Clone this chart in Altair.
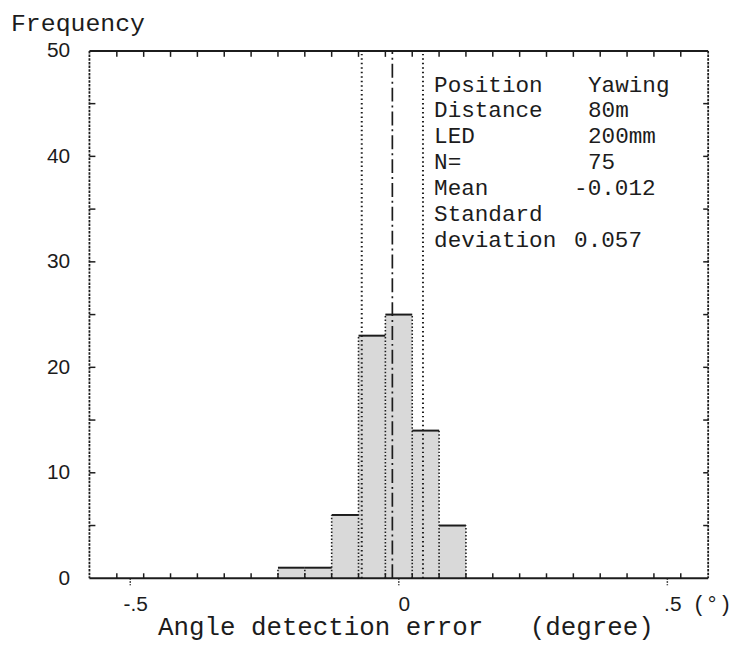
import altair as alt
import pandas as pd

# ---------------- data ----------------
bin_edges = [-0.225, -0.175, -0.125, -0.075, -0.025, 0.025, 0.075, 0.125]
counts = [1, 1, 6, 23, 25, 14, 5]
mean_err = -0.012
sd_err = 0.057
x_major = [-0.5, 0.0, 0.5]
x_major_text = ["-.5", "0", ".5"]
x_minor = [-0.525, -0.475, -0.425, -0.375, -0.325, -0.275, -0.225, -0.175,
           -0.125, -0.075, -0.025, 0.025, 0.075, 0.125, 0.175, 0.225,
           0.275, 0.325, 0.375, 0.425, 0.475, 0.525]
y_major = [0, 10, 20, 30, 40, 50]
y_minor = [5, 10, 15, 20, 25, 30, 35, 40, 45]
info_keys = ["Position", "Distance", "LED", "N=", "Mean", "Standard", "deviation"]
info_vals = ["Yawing", "80m", "200mm", "75", "-0.012", "", "0.057"]
x_title_text = "Angle detection error   (degree)"
y_title_text = "Frequency"
unit_text = "(°)"

# ---------------- layout / style ----------------
W, H = 623, 531
XDOM = [-0.576, 0.576]
YDOM = [0, 50]
INK = "#1c1c1c"
MONO = "Liberation Mono"
SANS = "Liberation Sans"
NBSP = "\u00a0"

xs = alt.Scale(domain=XDOM, nice=False, zero=False)
ys = alt.Scale(domain=YDOM, nice=False, zero=False)

bars_df = pd.DataFrame({"lo": bin_edges[:-1], "hi": bin_edges[1:], "count": counts, "base": 0})
edge_h = [max(counts[i - 1] if i > 0 else 0, counts[i] if i < len(counts) else 0)
          for i in range(len(bin_edges))]
edges_df = pd.DataFrame({"x": bin_edges, "h": edge_h, "base": 0})
stats_df = pd.DataFrame({"x": [mean_err - sd_err, mean_err + sd_err], "lo": 0, "hi": 50})
mean_df = pd.DataFrame({"x": [mean_err], "lo": 0, "hi": 50})
one = pd.DataFrame({"a": [0]})

label_expr = " : ".join(
    f"datum.value == {v} ? '{t}'" for v, t in zip(x_major, x_major_text)
) + " : ''"

x_axis = alt.Axis(values=x_major, labelExpr=label_expr, domain=False, ticks=False,
                  tickSize=0, grid=False, title=None, labelFont=SANS, labelFontSize=21,
                  labelColor=INK, labelPadding=15, labelOffset=5, labelBaseline="top")
y_axis = alt.Axis(values=y_major, domain=False, ticks=False, tickSize=0, grid=False,
                  title=None, labelFont=SANS, labelFontSize=21, labelColor=INK,
                  labelPadding=20)

bars = alt.Chart(bars_df).mark_rect(fill="#d9d9d9", strokeWidth=0).encode(
    x=alt.X("lo:Q", scale=xs, axis=x_axis),
    x2="hi:Q",
    y=alt.Y("count:Q", scale=ys, axis=y_axis),
    y2="base:Q",
)
tops = alt.Chart(bars_df).mark_rule(color=INK, strokeWidth=2).encode(
    x=alt.X("lo:Q", scale=xs), x2="hi:Q", y=alt.Y("count:Q", scale=ys)
)
sides = alt.Chart(edges_df).mark_rule(color=INK, strokeWidth=1.6, strokeDash=[1.5, 2]).encode(
    x=alt.X("x:Q", scale=xs), y=alt.Y("base:Q", scale=ys), y2="h:Q"
)
sd_lines = alt.Chart(stats_df).mark_rule(color=INK, strokeWidth=2, strokeDash=[1.5, 3]).encode(
    x=alt.X("x:Q", scale=xs), y=alt.Y("lo:Q", scale=ys), y2="hi:Q"
)
mean_line = alt.Chart(mean_df).mark_rule(color=INK, strokeWidth=1.7, strokeDash=[14, 4, 2, 4]).encode(
    x=alt.X("x:Q", scale=xs), y=alt.Y("lo:Q", scale=ys), y2="hi:Q"
)

frame_top = alt.Chart(one).mark_rule(color=INK, strokeWidth=2).encode(
    x=alt.value(0), x2=alt.value(W), y=alt.value(0))
frame_bottom = alt.Chart(one).mark_rule(color=INK, strokeWidth=2.2).encode(
    x=alt.value(0), x2=alt.value(W), y=alt.value(H))
frame_left = alt.Chart(one).mark_rule(color=INK, strokeWidth=1.8, strokeDash=[2.5, 1.2]).encode(
    x=alt.value(0), y=alt.value(0), y2=alt.value(H))
frame_right = alt.Chart(one).mark_rule(color=INK, strokeWidth=1.8, strokeDash=[2.5, 1.2]).encode(
    x=alt.value(W), y=alt.value(0), y2=alt.value(H))

xminor_df = pd.DataFrame({"v": x_minor})
xmajor_df = pd.DataFrame({"v": x_major})
yminor_df = pd.DataFrame({"v": y_minor})

tick_bottom = alt.Chart(xminor_df).mark_rule(color=INK, strokeWidth=1.5).encode(
    x=alt.X("v:Q", scale=xs), y=alt.value(H), y2=alt.value(H - 5))
tick_top = alt.Chart(xminor_df).mark_rule(color=INK, strokeWidth=1.5).encode(
    x=alt.X("v:Q", scale=xs), y=alt.value(0), y2=alt.value(6))
tick_major = alt.Chart(xmajor_df).mark_rule(color=INK, strokeWidth=1.5, strokeDash=[1.5, 1.5]).encode(
    x=alt.X("v:Q", scale=xs), y=alt.value(H), y2=alt.value(H + 7))
tick_left = alt.Chart(yminor_df).mark_rule(color=INK, strokeWidth=1.5).encode(
    y=alt.Y("v:Q", scale=ys), x=alt.value(0), x2=alt.value(6))
tick_right = alt.Chart(yminor_df).mark_rule(color=INK, strokeWidth=1.5).encode(
    y=alt.Y("v:Q", scale=ys), x=alt.value(W - 5), x2=alt.value(W))

y_title = alt.Chart(one).mark_text(
    align="left", baseline="alphabetic", font=MONO, fontSize=25, color=INK
).encode(text=alt.value(y_title_text), x=alt.value(-79), y=alt.value(-20))
x_title = alt.Chart(one).mark_text(
    align="left", baseline="alphabetic", font=MONO, fontSize=26, color=INK
).encode(text=alt.value(x_title_text.replace(" ", NBSP)), x=alt.value(69), y=alt.value(H + 57))
unit = alt.Chart(one).mark_text(
    align="center", baseline="alphabetic", font=MONO, fontSize=22, color=INK
).encode(text=alt.value(unit_text), x=alt.value(W + 4), y=alt.value(H + 33))

# info block: one text per row, two columns
info_df = pd.DataFrame({"key": info_keys, "val": info_vals, "row": list(range(len(info_keys)))})
info_base = alt.Chart(info_df).transform_calculate(
    py="41 + 26 * datum.row",
    px="(datum.row == 4 || datum.row == 6) ? 488 : 502",
)
info_k = info_base.mark_text(align="left", baseline="alphabetic", font=MONO,
                             fontSize=22.8, color=INK).encode(
    text="key:N", x=alt.value(347), y=alt.Y("py:Q", scale=None))
info_v = info_base.transform_filter("datum.val != ''").mark_text(
    align="left", baseline="alphabetic", font=MONO, fontSize=22.8, color=INK).encode(
    text="val:N", x=alt.X("px:Q", scale=None), y=alt.Y("py:Q", scale=None))

chart = alt.layer(
    bars, sides, tops, sd_lines, mean_line,
    frame_top, frame_bottom, frame_left, frame_right,
    tick_bottom, tick_top, tick_major, tick_left, tick_right,
    y_title, x_title, unit, info_k, info_v,
).properties(
    width=W, height=H,
    padding={"left": 82, "top": 41, "right": 24, "bottom": 64},
    autosize=alt.AutoSizeParams(type="none"),
    background="white",
).configure_view(stroke=None)

chart.save("out.html", embed_options={"renderer": "svg", "actions": False})
